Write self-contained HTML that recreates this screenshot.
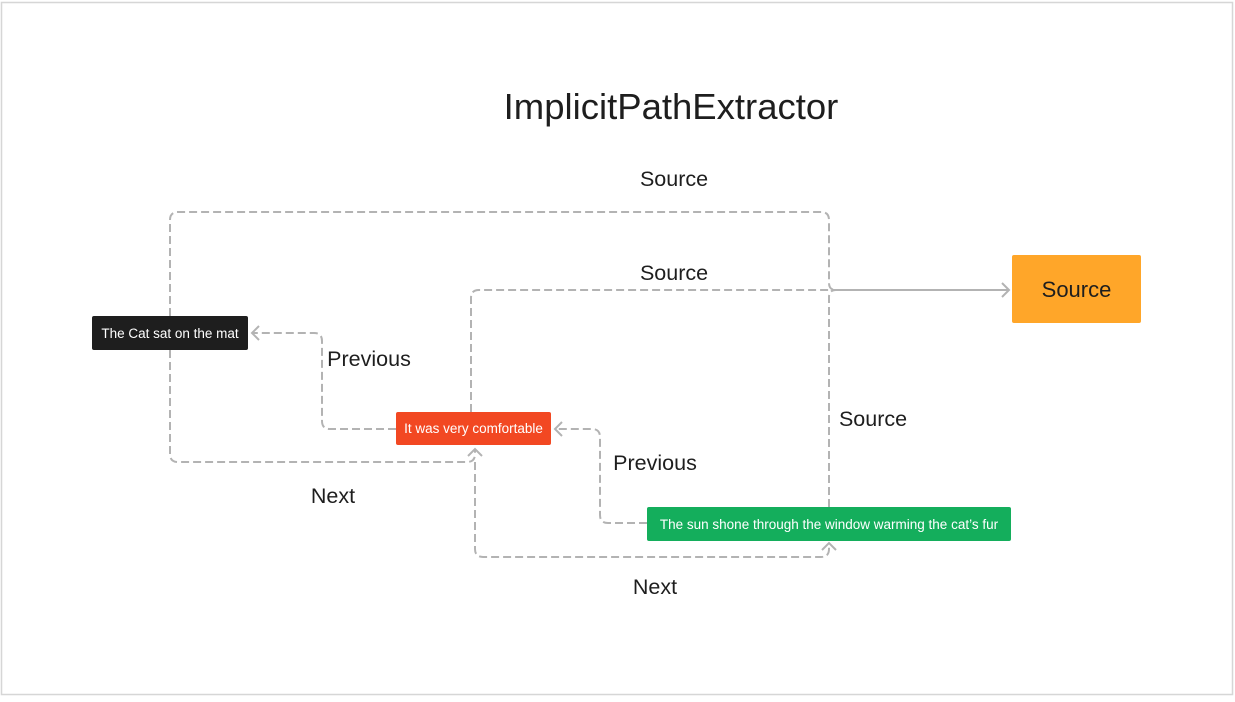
<!DOCTYPE html>
<html><head><meta charset="utf-8"><style>
html,body{margin:0;padding:0;background:#fff;}
body{width:1235px;height:697px;overflow:hidden;}
text{font-family:"Liberation Sans",sans-serif;}
</style></head><body>
<svg width="1235" height="697" viewBox="0 0 1235 697" xmlns="http://www.w3.org/2000/svg">
<rect x="1.5" y="2.5" width="1231" height="692" fill="#fff" stroke="#d6d6d6" stroke-width="1.5"/>
<text x="671" y="119" font-size="36.5" text-anchor="middle" fill="#1e1e1e">ImplicitPathExtractor</text>
<g fill="none" stroke="#b3b3b3" stroke-width="2" stroke-dasharray="8 4">
<path d="M170 316 V220 Q170 212 178 212 H821 Q829 212 829 220 V283 Q829 290 836 290"/>
<path d="M471 412 V298 Q471 290 479 290 H836"/>
<path d="M829 507 V297 Q829 290 836 290"/>
<path d="M396 429 H330 Q322 429 322 421 V341 Q322 333 314 333 H252"/>
<path d="M170 350 V454 Q170 462 178 462 H467 Q475 462 475 454 V449"/>
<path d="M647 523 H608 Q600 523 600 515 V437 Q600 429 592 429 H555"/>
<path d="M475 462 V549 Q475 557 483 557 H821 Q829 557 829 549 V543"/>
</g>
<g fill="none" stroke="#b3b3b3" stroke-width="2">
<path d="M836 290 H1009"/>
<path d="M1002 283 L1009 290 L1002 297"/>
<path d="M259 326 L252 333 L259 340"/>
<path d="M468 456 L475 449 L482 456"/>
<path d="M562 422 L555 429 L562 436"/>
<path d="M822 550 L829 543 L836 550"/>
</g>
<rect x="92" y="316" width="156" height="34" rx="2" fill="#1e1e1e"/>
<text x="170" y="338" font-size="13.5" text-anchor="middle" fill="#fff">The Cat sat on the mat</text>
<rect x="396" y="412" width="155" height="33" rx="2" fill="#f24822"/>
<text x="473.5" y="433" font-size="13.5" text-anchor="middle" fill="#fff">It was very comfortable</text>
<rect x="647" y="507" width="364" height="34" rx="2" fill="#14ae5c"/>
<text x="829" y="529" font-size="13.5" text-anchor="middle" fill="#fff">The sun shone through the window warming the cat’s fur</text>
<rect x="1012" y="255" width="129" height="68" rx="2" fill="#ffa629"/>
<text x="1076.5" y="297" font-size="22" text-anchor="middle" fill="#1e1e1e">Source</text>
<g font-size="21.5" fill="#1e1e1e" text-anchor="middle">
<text x="674" y="186">Source</text>
<text x="674" y="280">Source</text>
<text x="873" y="426">Source</text>
<text x="369" y="366">Previous</text>
<text x="333" y="503">Next</text>
<text x="655" y="470">Previous</text>
<text x="655" y="594">Next</text>
</g>
</svg>
</body></html>
